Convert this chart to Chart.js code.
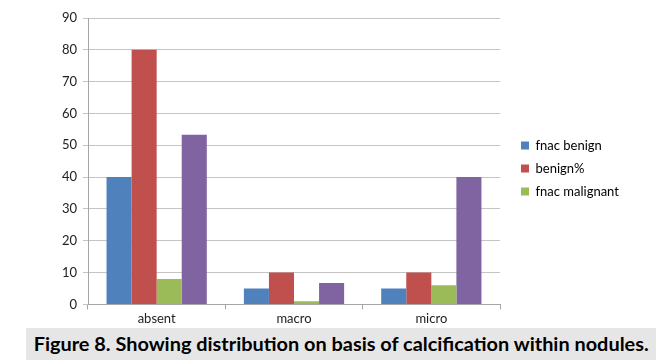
<!DOCTYPE html>
<html>
<head>
<meta charset="utf-8">
<script src="https://cdn.jsdelivr.net/npm/chart.js@4/dist/chart.umd.min.js"></script>
<style>
  html, body { margin: 0; padding: 0; background: #fff; }
  #wrap { position: relative; width: 665px; height: 364px; overflow: hidden; }
  #chartBox { position: absolute; left: 0; top: 0; width: 665px; height: 330px; }
  #caption {
    position: absolute; left: 26px; top: 328px; width: 630px; height: 32px;
    background: #e6e6e6; color: #000;
    font-family: Lato, "Open Sans", sans-serif; font-weight: 700; font-size: 18px;
    line-height: 32px; text-align: center; white-space: nowrap;
  }
  #capText { display: inline-block; transform-origin: center center; }
</style>
</head>
<body>
<div id="wrap">
  <div id="chartBox"><canvas id="calcChart"></canvas></div>
  <div id="caption"><span id="capText">Figure 8. Showing distribution on basis of calcification within nodules.</span></div>
</div>
<script>
// categories and series
const categories = ["absent", "macro", "micro"];
const fnacBenign = [40, 5, 5];
const benignPct = [80, 10, 10];
const fnacMalignant = [8, 1, 6];
const malignantPct = [53.3, 6.7, 40];   // 4th series, left out of the legend like the original
const yTicks = [0, 10, 20, 30, 40, 50, 60, 70, 80, 90];

const seriesNames = ["fnac benign", "benign%", "fnac malignant", "malignant%"];
const seriesColors = ["#4f81bd", "#c0504d", "#9bbb59", "#8064a2"];
const seriesValues = [fnacBenign, benignPct, fnacMalignant, malignantPct];

const tickFont = { family: "Lato, 'Open Sans', sans-serif", size: 13 };

// stretch the caption to the width it has in the figure
const cap = document.getElementById("capText");
cap.style.transform = "scaleX(" + (615 / cap.getBoundingClientRect().width) + ")";

// keep the legend column at a fixed width so the plot ends at x=500,
// then nudge the legend block to where the original has it
const legendWidth = {
    id: "legendWidth",
    beforeInit(chart) {
        const fit = chart.legend.fit;
        chart.legend.fit = function () {
            fit.call(this);
            this.width = 165;
        };
    },
    afterLayout(chart) {
        const lg = chart.legend;
        lg.left += 11; lg.right += 11;
        lg.top -= 5; lg.bottom -= 5;
    }
};

const ctx = document.getElementById("calcChart");
new Chart(ctx, {
    type: "bar",
    data: {
        labels: categories,
        datasets: seriesValues.map((vals, i) => ({
            label: seriesNames[i],
            data: vals,
            backgroundColor: seriesColors[i],
            borderWidth: 0,
            categoryPercentage: 0.73,
            barPercentage: 1.0
        }))
    },
    options: {
        responsive: true,
        maintainAspectRatio: false,
        animation: false,
        layout: { padding: { top: 18, bottom: 1, left: 0, right: 0 } },
        plugins: {
            tooltip: { enabled: false },
            legend: {
                position: "right",
                align: "center",
                labels: {
                    boxWidth: 8,
                    boxHeight: 8,
                    padding: 10,
                    color: "#000",
                    font: { family: "Lato, 'Open Sans', sans-serif", size: 13 },
                    filter: item => item.datasetIndex < 3
                }
            }
        },
        scales: {
            x: {
                grid: {
                    offset: true,
                    drawOnChartArea: false,
                    drawTicks: true,
                    tickLength: 5,
                    color: "#a6a6a6"
                },
                border: { color: "#a6a6a6" },
                ticks: { color: "#222", font: tickFont, padding: 2 }
            },
            y: {
                min: 0,
                max: 90,
                afterBuildTicks: axis => { axis.ticks = yTicks.map(v => ({ value: v })); },
                afterFit: axis => { axis.width = 88; },
                grid: { color: "#c4c4c4", tickLength: 5, lineWidth: 1 },
                border: { color: "#a6a6a6" },
                ticks: { color: "#222", font: tickFont, padding: 6 }
            }
        }
    },
    plugins: [legendWidth]
});
</script>
</body>
</html>
